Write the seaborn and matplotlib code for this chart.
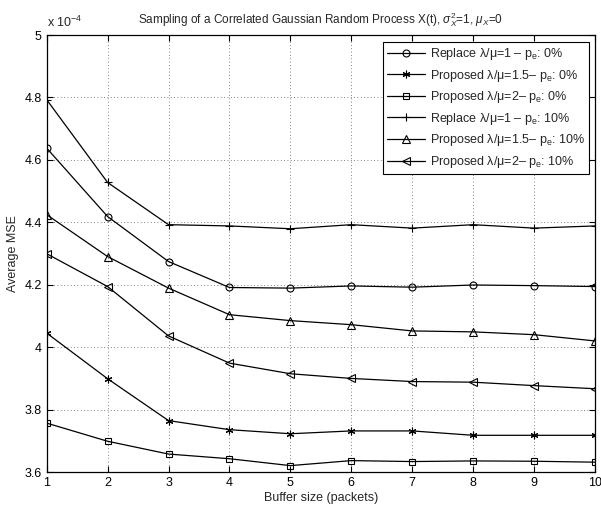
import matplotlib
matplotlib.use("Agg")
import matplotlib.pyplot as plt
import seaborn as sns
from matplotlib.ticker import FormatStrFormatter

sns.set_style("ticks")
plt.rcParams["font.family"] = ["Liberation Sans", "DejaVu Sans"]
plt.rcParams["mathtext.fontset"] = "custom"
plt.rcParams["mathtext.rm"] = "Liberation Sans"
plt.rcParams["mathtext.it"] = "Liberation Sans:italic"

buffer_size = [1, 2, 3, 4, 5, 6, 7, 8, 9, 10]

# Average MSE, in units of 1e-4
replace_1_0 = [4.638, 4.419, 4.275, 4.192, 4.190, 4.197, 4.193, 4.200, 4.198, 4.195]
proposed_15_0 = [4.046, 3.900, 3.766, 3.737, 3.724, 3.733, 3.733, 3.719, 3.719, 3.719]
proposed_2_0 = [3.758, 3.700, 3.659, 3.644, 3.622, 3.638, 3.635, 3.637, 3.636, 3.633]
replace_1_10 = [4.793, 4.528, 4.393, 4.389, 4.380, 4.393, 4.382, 4.393, 4.382, 4.389]
proposed_15_10 = [4.425, 4.291, 4.190, 4.105, 4.086, 4.073, 4.053, 4.050, 4.041, 4.021]
proposed_2_10 = [4.300, 4.195, 4.037, 3.950, 3.916, 3.901, 3.891, 3.889, 3.878, 3.868]

labels = [
    "Replace λ/μ=1 – p$_\\mathrm{e}$: 0%",
    "Proposed λ/μ=1.5– p$_\\mathrm{e}$: 0%",
    "Proposed λ/μ=2– p$_\\mathrm{e}$: 0%",
    "Replace λ/μ=1 – p$_\\mathrm{e}$: 10%",
    "Proposed λ/μ=1.5– p$_\\mathrm{e}$: 10%",
    "Proposed λ/μ=2– p$_\\mathrm{e}$: 10%",
]
series = [replace_1_0, proposed_15_0, proposed_2_0,
          replace_1_10, proposed_15_10, proposed_2_10]
markers = ["o", (6, 2, 0), "s", "+", "^", "<"]
sizes = [5, 5.5, 4.3, 6, 5.2, 5.2]

fig = plt.figure(figsize=(6.01, 5.08), dpi=100)
ax = fig.add_axes([0.0777, 0.0699, 0.9123, 0.8612])

for vals, lab, mk, ms in zip(series, labels, markers, sizes):
    sns.lineplot(x=buffer_size, y=vals, ax=ax, color="k", marker=mk, ms=ms,
                 mec="k", mfc="none", mew=0.8, lw=0.9, label=lab)

ax.set_xlim(1, 10)
ax.set_ylim(3.6, 5.0)
ax.set_xticks(buffer_size)
ax.set_yticks([3.6, 3.8, 4.0, 4.2, 4.4, 4.6, 4.8, 5.0])
ax.yaxis.set_major_formatter(FormatStrFormatter("%g"))
ax.tick_params(direction="in", top=True, right=True, labelsize=9,
               length=4, width=0.8, colors="k")
ax.grid(True, linestyle=(0, (1, 3)), color="0.35", lw=0.6)
for sp in ax.spines.values():
    sp.set_color("k")
    sp.set_linewidth(0.9)

ax.set_xlabel("Buffer size (packets)", fontsize=9, labelpad=2)
ax.set_ylabel("Average MSE", fontsize=9, labelpad=4)
ax.set_title("Sampling of a Correlated Gaussian Random Process X(t), "
             "$\\sigma_X^2$=1, $\\mu_X$=0", fontsize=8.5, pad=8)
ax.text(0.0, 1.012, "x 10$^{-4}$", transform=ax.transAxes, fontsize=9,
        ha="left", va="bottom")

leg = ax.legend(loc="upper right", bbox_to_anchor=(0.989, 0.985),
                borderaxespad=0, fontsize=9, frameon=True, fancybox=False,
                edgecolor="k", framealpha=1, handlelength=3.0, borderpad=0.35,
                labelspacing=0.45, handletextpad=0.4)
leg.get_frame().set_linewidth(0.8)

fig.savefig("out.png", dpi=100)
plt.close(fig)
